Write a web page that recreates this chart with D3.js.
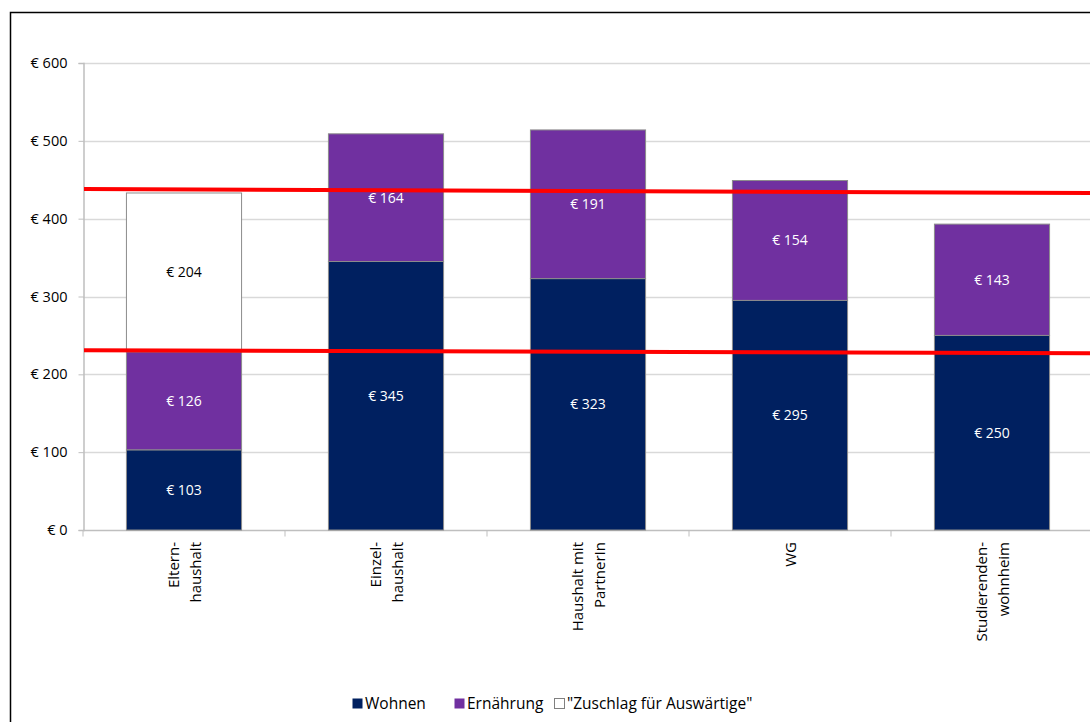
<!DOCTYPE html>
<html><head><meta charset="utf-8">
<script src="https://cdn.jsdelivr.net/npm/d3@7/dist/d3.min.js"></script>
<style>body{margin:0;background:#fff;} svg{display:block;font-family:"Open Sans",sans-serif;}</style>
</head><body>
<script>
const categories = [["Eltern-","haushalt"],["Einzel-","haushalt"],["Haushalt mit","PartnerIn"],["WG"],["Studierenden-","wohnheim"]];
const seriesNames = ["Wohnen","Ernährung","\"Zuschlag für Auswärtige\""];
const wohnen = [103,345,323,295,250];
const ernaehrung = [126,164,191,154,143];
const zuschlag = [204,0,0,0,0];
const yTicks = [0,100,200,300,400,500,600];
const redLineTop = [438,433];
const redLineBottom = [231,227];

const W=1090,H=722;
const svg=d3.select("body").append("svg").attr("width",W).attr("height",H);
svg.append("rect").attr("x",10.5).attr("y",12.5).attr("width",W+20).attr("height",H+20).attr("fill","#fff").attr("stroke","#000").attr("stroke-width",1.5);

const x0=83, x1=83+5*202, yTop=63, yBot=530;
const x=d3.scaleBand().domain(d3.range(5)).range([x0,x1]).paddingInner(0.43).paddingOuter(0.215);
const y=d3.scaleLinear().domain([0,600]).range([yBot,yTop]);

// gridlines
svg.append("g").selectAll("line").data(yTicks.slice(1)).join("line")
 .attr("x1",x0).attr("x2",W).attr("y1",d=>Math.round(y(d))+0.5).attr("y2",d=>Math.round(y(d))+0.5)
 .attr("stroke","#d9d9d9").attr("stroke-width",1.5);

// y axis
const ya=svg.append("g").attr("transform",`translate(${x0+0.5},0)`)
 .call(d3.axisLeft(y).tickValues(yTicks).tickFormat(d=>"€ "+d).tickSize(5).tickPadding(11));
ya.select(".domain").attr("stroke","#bfbfbf").attr("stroke-width",1.5);
ya.selectAll(".tick line").attr("stroke","#bfbfbf");
ya.selectAll(".tick text").attr("font-size",14.5).attr("fill","#000").attr("font-family","Open Sans");

// x axis
const xa=svg.append("g").attr("transform",`translate(0,${yBot+0.5})`);
xa.append("line").attr("x1",x0).attr("x2",W).attr("stroke","#bfbfbf").attr("stroke-width",1.5);
xa.selectAll("line.t").data(d3.range(0,6)).join("line").attr("class","t")
 .attr("x1",i=>x0+i*202).attr("x2",i=>x0+i*202).attr("y1",0).attr("y2",6).attr("stroke","#bfbfbf");

// stacks
const data=categories.map((c,i)=>({i,Wohnen:wohnen[i],"Ernährung":ernaehrung[i],Zuschlag:zuschlag[i]}));
const stack=d3.stack().keys(["Wohnen","Ernährung","Zuschlag"])(data);
const colors={"Wohnen":"#002060","Ernährung":"#7030a0","Zuschlag":"#ffffff"};
stack.forEach(s=>{
  const g=svg.append("g");
  g.selectAll("rect").data(s.filter(d=>d[1]-d[0]>0)).join("rect")
   .attr("x",d=>x(d.data.i)).attr("width",x.bandwidth())
   .attr("y",d=>y(d[1])).attr("height",d=>y(d[0])-y(d[1]))
   .attr("fill",colors[s.key]).attr("stroke","#8c8c8c").attr("stroke-width",1);
  g.selectAll("text").data(s.filter(d=>d[1]-d[0]>0)).join("text")
   .attr("x",d=>x(d.data.i)+x.bandwidth()/2).attr("y",d=>(y(d[0])+y(d[1]))/2)
   .attr("dy","0.35em").attr("text-anchor","middle").attr("font-size",14)
   .attr("fill",s.key==="Zuschlag"?"#000":"#fff")
   .text(d=>"€ "+(d[1]-d[0]));
});

// category labels
categories.forEach((lines,i)=>{
  const cx=x(i)+x.bandwidth()/2;
  const n=lines.length, lh=22;
  lines.forEach((t,j)=>{
    const off=(j-(n-1)/2)*lh;
    svg.append("text").attr("transform",`translate(${cx+off+6},${yBot+12}) rotate(-90)`)
      .attr("text-anchor","end").attr("font-size",15).attr("fill","#000").text(t);
  });
});

// red lines
const rl=d3.line().x(d=>d[0]).y(d=>y(d[1]));
[redLineTop,redLineBottom].forEach(v=>{
  svg.append("path").attr("d",rl([[x0+1,v[0]],[W,v[1]]])).attr("stroke","#ff0000").attr("stroke-width",4).attr("fill","none");
});

// legend
const leg=[{k:"Wohnen",x:352},{k:"Ernährung",x:454},{k:"Zuschlag",x:554}];
leg.forEach((l,i)=>{
  svg.append("rect").attr("x",l.x+0.5).attr("y",698.5).attr("width",10).attr("height",10)
    .attr("fill",colors[l.k]).attr("stroke",l.k==="Zuschlag"?"#808080":"none");
  svg.append("text").attr("x",l.x+13).attr("y",704).attr("dy","0.35em").attr("font-size",15.5).attr("fill","#000").text(seriesNames[i]);
});
</script>
</body></html>
